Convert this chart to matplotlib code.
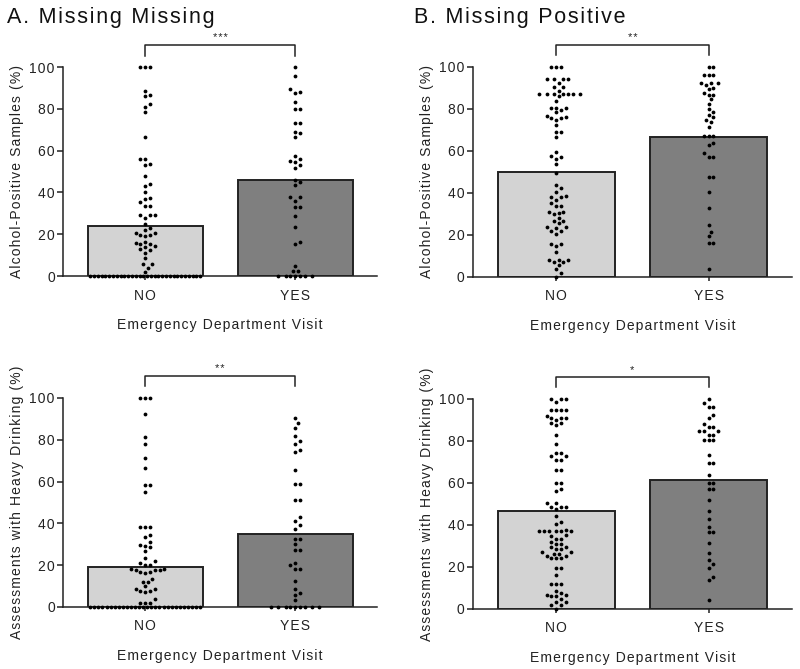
import numpy as np
import matplotlib
matplotlib.use("Agg")
import matplotlib.pyplot as plt

plt.rcParams['font.family'] = ['Liberation Sans', 'DejaVu Sans']

# ---- data ----
groups = ["NO", "YES"]
bar_colors = ["#d3d3d3", "#7f7f7f"]

# panel A top: Missing Missing, alcohol-positive samples
a_top_no = [100, 100, 100, 88.5, 86.7, 86.1, 82.4, 81.1, 78.6, 66.6, 55.8, 55.8,
            53.6, 53.3, 47.8, 44.2, 42.9, 40.3, 37.1, 36.8, 35.2, 33.3, 33.3,
            29.3, 29.1, 29.0, 27.7, 24.8, 22.9, 21.9, 20.6, 20.5, 19.7, 19.4,
            19.0, 16.2, 16.0, 15.4, 15.2, 14.2, 13.9, 13.0, 12.3, 11.2, 8.8,
            5.9, 5.6, 4.0, 1.9] + [0] * 30
a_top_yes = [100, 95.7, 89.6, 87.7, 88.0, 83.2, 79.8, 79.8, 73.4, 73.4, 69.0,
             68.3, 66.4, 57.6, 56.2, 54.9, 54.6, 53.0, 51.5, 46.1, 45.1, 43.5,
             37.9, 37.9, 36.0, 33.1, 33.1, 28.5, 23.5, 16.3, 15.5, 4.6, 2.2,
             2.2] + [0] * 7

# panel B top: Missing Positive, alcohol-positive samples
b_top_no = [100, 100, 100, 94.1, 94.1, 94.1, 94.1, 92.2, 90.3, 90.3, 88.6,
            87.0, 87.0, 87.0, 87.0, 87.0, 87.0, 87.0, 86.2, 84.0, 80.6, 80.6,
            80.6, 79.5, 78.3, 76.7, 76.0, 75.7, 75.7, 74.8, 72.4, 69.2, 69.2,
            66.5, 59.5, 57.6, 57.3, 56.0, 53.7, 49.7, 44.0, 42.5, 40.6, 38.6,
            38.3, 38.3, 36.7, 35.1, 33.8, 33.8, 31.1, 30.8, 30.6, 30.0, 28.3,
            26.8, 26.8, 25.6, 24.0, 24.0, 23.5, 22.1, 22.1, 20.5, 15.9, 15.9,
            14.9, 12.1, 8.1, 8.1, 8.1, 7.0, 7.0, 5.7, 3.7, 1.7, 0]
b_top_yes = [100, 100, 96.2, 96.2, 96.2, 92.2, 92.2, 92.2, 91.4, 89.8, 89.4,
             87.5, 86.7, 86.7, 84.6, 82.4, 79.8, 78.7, 77.1, 76.0, 74.8, 73.8,
             71.6, 67.1, 67.1, 67.1, 63.7, 62.7, 59.2, 57.3, 57.3, 47.8, 47.8,
             40.6, 32.7, 24.8, 21.6, 19.5, 16.3, 16.3, 3.7]

# panel A bottom: Missing Missing, heavy drinking assessments
a_bot_no = [100, 100, 100, 92.2, 81.3, 77.8, 71.3, 66.7, 58.2, 58.2, 55.0,
            38.3, 38.3, 38.3, 34.6, 33.3, 31.1, 29.8, 29.2, 28.5, 26.6, 23.4,
            21.8, 21.2, 19.9, 19.9, 18.3, 17.9, 17.5, 16.6, 16.3, 16.6, 17.5,
            18.2, 13.2, 12.0, 12.0, 10.0, 8.5, 7.5, 7.2, 7.5, 8.5, 4.0, 2.1,
            2.1, 2.1] + [0] * 28
a_bot_yes = [90.4, 88.0, 85.8, 81.7, 79.4, 78.1, 75.0, 74.0, 65.7, 58.9, 58.9,
             51.0, 51.0, 42.9, 41.3, 39.1, 37.5, 32.5, 32.5, 30.0, 27.3, 27.3,
             21.1, 20.1, 18.3, 18.3, 12.4, 8.5, 6.5, 5.9, 3.2] + [0] * 9

# panel B bottom: Missing Positive, heavy drinking assessments
b_bot_no = [100, 100, 100, 98.5, 94.6, 94.6, 94.6, 94.6, 91.9, 91.0, 91.0,
            91.0, 89.8, 88.6, 88.6, 87.5, 82.7, 78.4, 74.3, 74.3, 72.7, 72.7,
            71.1, 71.1, 66.3, 66.3, 60.2, 60.2, 57.3, 56.0, 50.5, 50.5, 48.6,
            48.6, 48.6, 47.8, 44.3, 41.4, 40.6, 37.8, 37.0, 37.0, 37.0, 37.0,
            37.0, 37.0, 35.4, 34.8, 33.5, 33.5, 31.9, 31.1, 31.1, 29.4, 29.4,
            28.7, 28.7, 27.1, 27.1, 26.3, 26.3, 25.2, 25.2, 24.3, 24.3, 24.3,
            19.5, 19.5, 16.0, 11.9, 11.9, 11.9, 8.4, 7.6, 6.5, 6.5, 6.0, 6.0,
            4.9, 3.5, 3.5, 1.7, 1.7, 0]
b_bot_yes = [100, 98.1, 96.3, 96.3, 92.5, 90.8, 88.3, 86.7, 86.7, 84.6, 84.6,
             84.6, 83.0, 83.0, 80.3, 80.3, 80.3, 73.2, 69.5, 69.5, 63.7, 60.2,
             60.2, 57.3, 57.3, 52.1, 46.5, 42.7, 39.0, 36.7, 36.7, 31.6, 26.7,
             23.2, 21.4, 19.7, 15.1, 13.7, 4.1]

# bar heights (group means)
a_top_means = [23.7, 45.8]
b_top_means = [49.8, 66.6]
a_bot_means = [19.2, 34.7]
b_bot_means = [46.6, 61.5]

stars = ["***", "**", "**", "*"]
titles = ["A. Missing Missing", "B. Missing Positive"]
ylabels = ["Alcohol-Positive Samples (%)", "Assessments with Heavy Drinking (%)"]
xlabel = "Emergency Department Visit"


def spaced(s):
    # the original uses wide letter spacing
    return "\u200a".join(s)


def swarm(values, ppx_x, ppx_y, d=4.8, d_row=3.2, maxw=110):
    """greedy beeswarm, offsets returned in x data units"""
    vals = np.asarray(values, dtype=float)
    order = np.argsort(vals, kind="stable")
    placed = []
    offs = np.zeros(len(vals))
    uniq, counts = np.unique(vals, return_counts=True)
    crowded = {u: c for u, c in zip(uniq, counts) if c * d > maxw}
    seen = {}
    for i in order:
        v = vals[i]
        y = v * ppx_y
        if v in crowded:
            # squeezed row of identical values across the bar
            n = crowded[v]
            k = seen.get(v, 0)
            seen[v] = k + 1
            x = -maxw / 2 + k * maxw / (n - 1)
            placed.append((x, y, d_row))
        else:
            x = None
            for step in range(0, 200):
                for sgn in ([0] if step == 0 else [1, -1]):
                    cand = sgn * step * d / 2
                    ok = all((cand - px) ** 2 + (y - py) ** 2 >= dd * dd
                             for px, py, dd in placed)
                    if ok:
                        x = cand
                        break
                if x is not None:
                    break
            placed.append((x, y, d))
        offs[i] = x / ppx_x
    return offs


fig = plt.figure(figsize=(8, 6.69), dpi=100)

panels = [
    ([0.079, 0.5874, 0.3925, 0.3124], a_top_no, a_top_yes, a_top_means, 0, 0),
    ([0.591, 0.586, 0.399, 0.314], b_top_no, b_top_yes, b_top_means, 1, 0),
    ([0.079, 0.0927, 0.3925, 0.3124], a_bot_no, a_bot_yes, a_bot_means, 0, 1),
    ([0.591, 0.0897, 0.399, 0.314], b_bot_no, b_bot_yes, b_bot_means, 1, 1),
]

for k, (rect, no_vals, yes_vals, means, col, row) in enumerate(panels):
    ax = fig.add_axes(rect)
    ax.set_xlim(-0.547, 1.547)
    ax.set_ylim(0, 100)
    ax.bar([0, 1], means, width=0.767, color=bar_colors, edgecolor="#222222",
           linewidth=1.4, zorder=1)
    ppx_x = rect[2] * 800 / 2.094
    ppx_y = rect[3] * 669 / 100
    for xi, vals in enumerate([no_vals, yes_vals]):
        offs = swarm(vals, ppx_x, ppx_y)
        ax.scatter(xi + offs, vals, s=7.5, color="black", linewidths=0,
                   zorder=3, clip_on=False)

    for side in ["top", "right"]:
        ax.spines[side].set_visible(False)
    for side in ["left", "bottom"]:
        ax.spines[side].set_linewidth(1.1)
        ax.spines[side].set_color("#222222")
    ax.set_yticks(range(0, 101, 20))
    ax.set_yticklabels([spaced(str(t)) for t in range(0, 101, 20)])
    ax.set_xticks([0, 1])
    ax.set_xticklabels([spaced(g) for g in groups])
    ax.tick_params(axis="y", length=4, width=1.1, labelsize=10, pad=2,
                   colors="#222222")
    ax.tick_params(axis="x", length=3, width=1.1, labelsize=10, pad=6,
                   colors="#222222")
    ax.set_ylabel(spaced(ylabels[row]), fontsize=10, labelpad=4,
                  color="#222222")
    ax.set_xlabel(spaced(xlabel), fontsize=10, labelpad=11, color="#222222")

    # significance bracket
    ax.plot([0, 0, 1, 1], [105.5, 110.5, 110.5, 105.5], color="#222222",
            linewidth=1.1, clip_on=False)
    ax.text(0.5, 111.5, spaced(stars[k]), ha="center", va="bottom",
            fontsize=8, color="#222222")

    if row == 0:
        fig.text(0.009 if col == 0 else 0.518, 0.99, spaced(titles[col]),
                 fontsize=15.5, ha="left", va="top", color="#111111")

fig.savefig("out.png", dpi=100)
